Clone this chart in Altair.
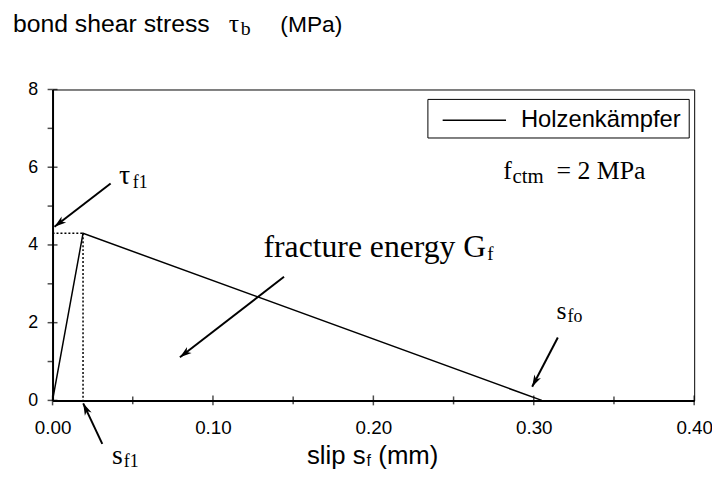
import math
import altair as alt
import pandas as pd

# ---------------- data ----------------
slip = [0.0, 0.019, 0.305]          # mm
stress = [0.0, 4.3, 0.0]            # MPa
series_name = "Holzenkämpfer"

s_f1 = 0.019
tau_f1 = 4.3

x_major = [0.0, 0.1, 0.2, 0.3, 0.4]
x_minor = [0.05, 0.15, 0.25, 0.35]
y_major = [0, 2, 4, 6, 8]
y_minor = [1, 3, 5, 7]

# arrows: tail -> tip (mm, MPa)
arrow_s_tail = [0.0362, 0.031, 0.1443, 0.315]
arrow_t_tail = [5.58, -1.12, 3.18, 1.62]
arrow_s_tip = [0.0012, 0.0191, 0.0794, 0.299]
arrow_t_tip = [4.47, -0.076, 1.11, 0.35]

# legend box (mm, MPa)
leg_s = [0.2340, 0.3969]
leg_t = [6.752, 7.745]
leg_line_s = [0.2432, 0.2827]
leg_line_t = 7.21
leg_text_s = 0.2920

# serif annotations (text, slip, stress, font size)
serif_text = ["τ", "f1", "s", "f1", "s", "fo", "fracture energy G", "f",
              "f", "ctm", "= 2 MPa", "τ", "b"]
serif_s = [0.0414, 0.0500, 0.0370, 0.0444, 0.3142, 0.3210, 0.1315, 0.2710,
           0.2809, 0.2867, 0.3142, 0.1099, 0.1173]
serif_t = [5.580, 5.478, -1.631, -1.707, 2.089, 2.013, 3.694, 3.600,
           5.707, 5.605, 5.707, 9.478, 9.401]
serif_fs = [28, 18, 28, 18, 26, 18, 32, 19, 26, 21, 26, 26, 20]

# sans annotations
sans_text = ["bond shear stress", "(MPa)", "slip s", "f", "(mm)"]
sans_s = [-0.0247, 0.1420, 0.1586, 0.1957, 0.2031]
sans_t = [9.478, 9.478, -1.630, -1.681, -1.630]
sans_fs = [25, 23, 26, 16, 26]

# ---------------- layout ----------------
W, H = 648, 314
XMAX, YMAX = 0.4, 8
px_per_s = W / XMAX
px_per_t = H / YMAX

xs = alt.Scale(domain=[0, XMAX], nice=False, zero=False)
ys = alt.Scale(domain=[0, YMAX], nice=False, zero=False)

x_axis = alt.Axis(values=x_major, format=".2f", ticks=False, grid=False,
                  domainColor="black", domainWidth=2, labelFont="Liberation Sans",
                  labelFontSize=19, labelColor="black", labelPadding=18,
                  labelFlush=False, labelOverlap=False, title=None)
y_axis = alt.Axis(values=y_major, format="d", ticks=False, grid=False,
                  domainColor="black", domainWidth=2, labelFont="Liberation Sans",
                  labelFontSize=18, labelColor="black", labelPadding=15,
                  labelOverlap=False, title=None)


def X(field):
    return alt.X(field, type="quantitative", scale=xs, axis=x_axis)


def Y(field):
    return alt.Y(field, type="quantitative", scale=ys, axis=y_axis)


df_line = pd.DataFrame({"s": slip, "tau": stress})
line = alt.Chart(df_line).mark_line(strokeWidth=1.5, color="black").encode(
    x=X("s"), y=Y("tau"))

df_dot = pd.DataFrame({"s": [0.0, s_f1], "tau": [tau_f1, tau_f1],
                       "s2": [s_f1, s_f1], "tau2": [tau_f1, 0.0]})
dotted = alt.Chart(df_dot).mark_rule(strokeDash=[2, 2], strokeWidth=1.5, color="black").encode(
    x=X("s"), y=Y("tau"), x2="s2:Q", y2="tau2:Q")


def ticks_x(vals, size):
    d = pd.DataFrame({"s": vals, "tau": [0.0] * len(vals)})
    return alt.Chart(d).mark_tick(orient="vertical", size=size, thickness=1.5,
                                  color="black").encode(x=X("s"), y=Y("tau"))


def ticks_y(vals, size, off):
    d = pd.DataFrame({"s": [0.0] * len(vals), "tau": vals})
    return alt.Chart(d).mark_tick(orient="horizontal", size=size, thickness=1.5,
                                  color="black", xOffset=off).encode(x=X("s"), y=Y("tau"))


angles = []
for a, b, c, d in zip(arrow_s_tail, arrow_t_tail, arrow_s_tip, arrow_t_tip):
    dx = (c - a) * px_per_s
    dy = -(d - b) * px_per_t
    angles.append(math.degrees(math.atan2(dx, -dy)) % 360)

df_arr = pd.DataFrame({"s": arrow_s_tail, "tau": arrow_t_tail,
                       "s2": arrow_s_tip, "tau2": arrow_t_tip, "ang": angles})
arrow_lines = alt.Chart(df_arr).mark_rule(strokeWidth=2, color="black").encode(
    x=X("s"), y=Y("tau"), x2="s2:Q", y2="tau2:Q")
arrow_heads = alt.Chart(df_arr).mark_point(
    shape="M0,0L0.5,1.6L0,1.15L-0.5,1.6Z", filled=True, size=225,
    color="black", opacity=1, strokeWidth=0).encode(
    x=X("s2"), y=Y("tau2"), angle=alt.Angle("ang:Q", scale=None))

# legend (drawn as a box with a line sample and its label)
df_leg = pd.DataFrame({"s": [leg_s[0]], "s2": [leg_s[1]], "tau": [leg_t[0]], "tau2": [leg_t[1]]})
leg_box = alt.Chart(df_leg).mark_rect(fill="white", stroke="black", strokeWidth=1).encode(
    x=X("s"), x2="s2:Q", y=Y("tau"), y2="tau2:Q")
df_leg_line = pd.DataFrame({"s": [leg_line_s[0]], "s2": [leg_line_s[1]],
                            "tau": [leg_line_t], "tau2": [leg_line_t]})
leg_line = alt.Chart(df_leg_line).mark_rule(strokeWidth=1.5, color="black").encode(
    x=X("s"), x2="s2:Q", y=Y("tau"), y2="tau2:Q")
df_leg_text = pd.DataFrame({"s": [leg_text_s], "tau": [leg_line_t], "txt": [series_name]})
leg_text = alt.Chart(df_leg_text).mark_text(font="Liberation Sans", fontSize=24, align="left",
                                            baseline="middle", color="black").encode(
    x=X("s"), y=Y("tau"), text="txt:N")

df_serif = pd.DataFrame({"s": serif_s, "tau": serif_t, "txt": serif_text, "fs": serif_fs})
serif = alt.Chart(df_serif).mark_text(font="Liberation Serif", align="left",
                                      baseline="alphabetic", color="black").encode(
    x=X("s"), y=Y("tau"), text="txt:N", size=alt.Size("fs:Q", scale=None))

df_sans = pd.DataFrame({"s": sans_s, "tau": sans_t, "txt": sans_text, "fs": sans_fs})
sans = alt.Chart(df_sans).mark_text(font="Liberation Sans", align="left",
                                    baseline="alphabetic", color="black").encode(
    x=X("s"), y=Y("tau"), text="txt:N", size=alt.Size("fs:Q", scale=None))

chart = alt.layer(
    dotted, line,
    ticks_x(x_major, 10), ticks_x(x_minor, 8),
    ticks_y(y_major, 10, 0), ticks_y(y_minor, 5, -2.5),
    arrow_lines, arrow_heads, leg_box, leg_line, leg_text, serif, sans,
).properties(
    width=W, height=H,
    padding={"left": 45, "top": 80, "right": 18, "bottom": 70},
    autosize=alt.AutoSizeParams(type="none"),
    background="white",
).configure_view(stroke="black", strokeWidth=1)

chart.save("out.html", embed_options={"renderer": "svg", "actions": False})
